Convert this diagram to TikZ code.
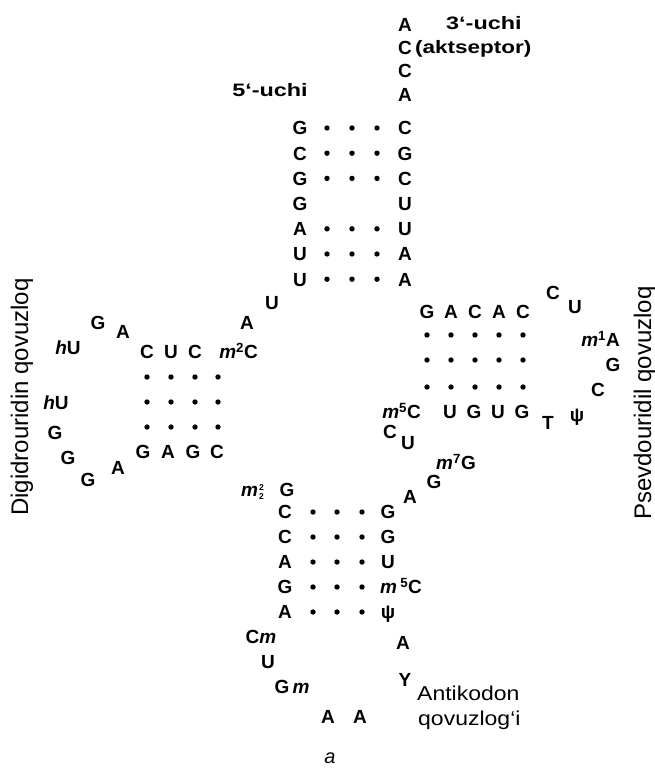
\documentclass[tikz,border=0pt]{standalone}
\usepackage{fontspec}
\setmainfont{Liberation Sans}
\newcommand\ntf{\bfseries\fontsize{19}{19}\selectfont}
\newcommand\labf{\bfseries\fontsize{18}{18}\selectfont}
\newcommand\sidef{\fontsize{24}{24}\selectfont}
\newcommand\antf{\fontsize{20}{20}\selectfont}
\newcommand\mi{\textit{m}}
\begin{document}
\begin{tikzpicture}[x=1pt,y=-1pt,
  nt/.style={font=\ntf, inner sep=0pt, text height=13.6pt, text depth=0pt},
  bp/.style={circle, fill=black, inner sep=0pt, minimum size=5.4pt},
  lab/.style={font=\labf, inner sep=0pt},
  antlab/.style={font=\antf, inner sep=0pt},
  side/.style={font=\sidef, inner sep=0pt, rotate=90}]
\useasboundingbox (0,0) rectangle (655,768);
% ---------- acceptor stem ----------
\node[nt] (a76) at (405,25) {A};
\node[nt] (a75) at (405,48) {C};
\node[nt] (a74) at (405,71) {C};
\node[nt] (a73) at (405,95) {A};
\foreach \b [count=\i] in {G,C,G,G,A,U,U}
  \node[nt] (l\i) at (300,{128+25.2*(\i-1)}) {\b};
\foreach \b [count=\i] in {C,G,C,U,U,A,A}
  \node[nt] (r\i) at (405,{128+25.2*(\i-1)}) {\b};
\foreach \i in {1,2,3,5,6,7}
  \foreach \x [count=\j] in {327,352,377}
    \node[bp] (ad\i\j) at (\x,{128+25.2*(\i-1)}) {};
\node[lab, anchor=base] (u5) at (270,96) {\scalebox{1.3}[1]{5‘-uchi}};
\node[lab, anchor=base west] (u3) at (446,30) {\scalebox{1.3}[1]{3‘-uchi}};
\node[lab, anchor=base west] (akt) at (415,54) {\scalebox{1.25}[1]{(aktseptor)}};
% ---------- D arm ----------
\node[nt] (d8) at (272,303) {U};
\node[nt] (d9) at (247,323) {A};
\node[nt] (d10) at (147,352) {C};
\node[nt] (d11) at (171,352) {U};
\node[nt] (d12) at (195,352) {C};
\node[nt, anchor=east] (d13) at (258,352) {\mi\textsuperscript{2}C};
\foreach \y [count=\i] in {377,402,427}
  \foreach \x [count=\j] in {147,171,195,218}
    \node[bp] (dd\i\j) at (\x,\y) {};
\node[nt] (d22) at (143,452) {G};
\node[nt] (d23) at (168,452) {A};
\node[nt] (d24) at (193,452) {G};
\node[nt] (d25) at (217,452) {C};
\node[nt] (d14) at (123,332) {A};
\node[nt] (d15) at (98,323) {G};
\node[nt] (d16) at (68,348) {\textit{h}U};
\node[nt] (d17) at (56,403) {\textit{h}U};
\node[nt] (d18) at (55,433) {G};
\node[nt] (d19) at (68,458) {G};
\node[nt] (d20) at (88,480) {G};
\node[nt] (d21) at (118,468) {A};
\node[side] (dlab) at (22,397) {Digidrouridin qovuzloq};
% ---------- anticodon arm ----------
\node[nt, anchor=east] (m22) at (264,490) {\mi\hspace{1pt}\raisebox{-3pt}{\fontsize{8.5}{8}\selectfont\shortstack{2\\2}}};
\node[nt] (c26) at (287,490) {G};
\foreach \b [count=\i] in {C,C,A,G,A}
  \node[nt] (cl\i) at (285,{512+25*(\i-1)}) {\b};
\foreach \b [count=\i] in {G,G,U}
  \node[nt] (cr\i) at (388,{512+25*(\i-1)}) {\b};
\node[nt, anchor=west] (cr4) at (380,587) {\mi\,\textsuperscript{5}C};
\node[nt] (cr5) at (388,612) {ψ};
\foreach \i in {1,...,5}
  \foreach \x [count=\j] in {313,337,362}
    \node[bp] (cd\i\j) at (\x,{512+25*(\i-1)}) {};
\node[nt] (c32) at (261,637) {C\mi};
\node[nt] (c33) at (268,662) {U};
\node[nt] (c34) at (292,687) {G\,\mi};
\node[nt] (c35) at (328,717) {A};
\node[nt] (c36) at (360,717) {A};
\node[nt] (c37) at (405,680) {Y};
\node[nt] (c38) at (403,643) {A};
\node[antlab, anchor=base west] (alab1) at (417,700) {\scalebox{1.15}[1]{Antikodon}};
\node[antlab, anchor=base west] (alab2) at (418,725) {\scalebox{1.15}[1]{qovuzlog‘i}};
\node[antlab] (fa) at (330,758) {\textit{a}};
% ---------- T arm ----------
\node[nt] (t44) at (410,497) {A};
\node[nt] (t45) at (434,482) {G};
\node[nt, anchor=east] (t46) at (476,463) {\mi\textsuperscript{7}G};
\node[nt] (t47) at (408,443) {U};
\node[nt] (t48) at (390,432) {C};
\node[nt, anchor=east] (t49) at (421,412) {\mi\textsuperscript{5}C};
\foreach \b/\x [count=\i] in {U/450,G/474,U/498,G/522}
  \node[nt] (tb\i) at (\x,412) {\b};
\foreach \b/\x [count=\i] in {G/427,A/451,C/475,A/499,C/523}
  \node[nt] (tt\i) at (\x,312) {\b};
\foreach \y [count=\i] in {335,360,387}
  \foreach \x [count=\j] in {427,451,475,499,523}
    \node[bp] (td\i\j) at (\x,\y) {};
\node[nt] (t60) at (553,293) {C};
\node[nt] (t59) at (575,307) {U};
\node[nt, anchor=east] (t58) at (620,340) {\mi\textsuperscript{1}A};
\node[nt] (t57) at (613,365) {G};
\node[nt] (t56) at (598,390) {C};
\node[nt] (t55) at (577,415) {ψ};
\node[nt] (t54) at (548,423) {T};
\node[side] (tlab) at (645,403) {Psevdouridil qovuzloq};
\end{tikzpicture}
\end{document}
